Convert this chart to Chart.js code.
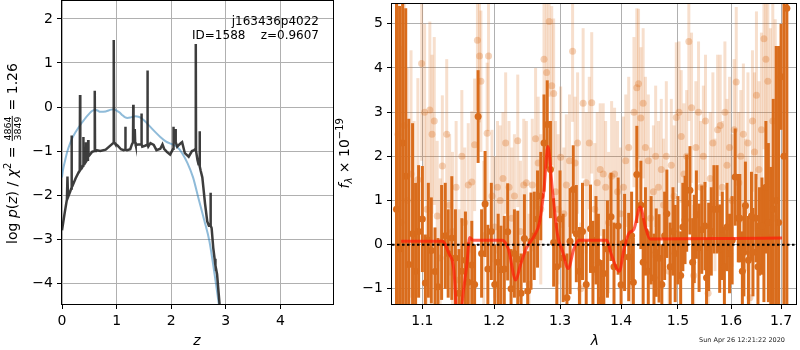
<!DOCTYPE html>
<html>
<head>
<meta charset="utf-8">
<script src="https://cdn.jsdelivr.net/npm/chart.js@4.4.0/dist/chart.umd.min.js"></script>
<style>
  html, body { margin: 0; padding: 0; background: #fff; }
  #wrap { position: relative; width: 800px; height: 350px; }
  canvas { position: absolute; top: 0; }
  #pz { left: 0; }
  #spec { left: 330px; }
</style>
</head>
<body>
<div id="wrap">
  <canvas id="pz" width="340" height="350"></canvas>
  <canvas id="spec" width="470" height="350"></canvas>
</div>
<script>
// ---- left panel: log p(z) ----
const zDark = [
  0.00, 0.05, 0.09, 0.10, 0.11, 0.15, 0.17, 0.175, 0.18, 0.19,
  0.25, 0.31, 0.325, 0.33, 0.335, 0.36, 0.385, 0.39, 0.395, 0.41,
  0.435, 0.44, 0.445, 0.46, 0.475, 0.48, 0.485, 0.50, 0.55, 0.595,
  0.60, 0.605, 0.62, 0.70, 0.80, 0.90, 0.94, 0.945, 0.95, 0.955,
  0.97, 1.02, 1.08, 1.13, 1.155, 1.16, 1.165, 1.19, 1.25, 1.28,
  1.30, 1.305, 1.31, 1.32, 1.33, 1.335, 1.34, 1.35, 1.40, 1.45,
  1.455, 1.46, 1.47, 1.52, 1.56, 1.565, 1.57, 1.58, 1.62, 1.68,
  1.73, 1.80, 1.84, 1.87, 1.92, 1.98, 2.035, 2.04, 2.045, 2.06,
  2.075, 2.08, 2.085, 2.11, 2.15, 2.18, 2.20, 2.25, 2.32, 2.38,
  2.42, 2.445, 2.45, 2.455, 2.48, 2.50, 2.515, 2.52, 2.525, 2.54,
  2.57, 2.62, 2.66, 2.69, 2.715, 2.72, 2.725, 2.74, 2.77, 2.80,
  2.805, 2.81, 2.84, 2.88, 2.92
];
const logpDark = [
  -2.8, -2.4, -2.1, -1.58, -2.05, -1.92, -1.85, -0.65, -1.82, -1.8,
  -1.62, -1.47, -1.45, 0.27, -1.43, -1.38, -1.33, -0.68, -1.32, -1.28,
  -1.25, -0.8, -1.23, -1.2, -1.15, -0.75, -1.12, -1.1, -1.02, -1.0,
  0.37, -1.0, -0.98, -1.0, -0.97, -0.86, -0.82, -0.8, 1.52, -0.8,
  -0.83, -0.88, -0.96, -0.98, -0.97, -0.45, -0.97, -0.98, -0.96, -0.85,
  -0.8, 0.05, -0.7, -0.8, -0.75, -0.5, -0.8, -0.86, -0.85, -0.85,
  -0.15, -0.85, -0.9, -0.88, -0.86, 0.83, -0.85, -0.9, -0.82, -0.86,
  -0.98, -0.95, -0.85, -0.95, -1.02, -1.08, -0.95, -0.45, -0.8, -0.75,
  -0.72, -0.5, -0.8, -0.9, -0.85, -0.82, -0.8, -1.05, -1.13, -1.0,
  -0.98, -0.95, 1.43, -1.0, -1.2, -1.3, -1.3, -0.55, -1.35, -1.45,
  -1.6, -2.2, -2.6, -2.7, -2.7, -1.95, -2.7, -2.75, -3.2, -3.5,
  -3.45, -3.6, -3.8, -4.4, -5.0
];
const zBlue = [
  0, 0.02, 0.05, 0.1, 0.15, 0.2, 0.25, 0.3, 0.35, 0.4,
  0.45, 0.5, 0.55, 0.6, 0.65, 0.7, 0.8, 0.9, 0.95, 1.0,
  1.05, 1.1, 1.15, 1.2, 1.25, 1.3, 1.35, 1.4, 1.45, 1.5,
  1.55, 1.6, 1.7, 1.8, 1.9, 2.0, 2.1, 2.2, 2.3, 2.4,
  2.5, 2.6, 2.7, 2.8, 2.87, 2.92
];
const logpBlue = [
  -1.6, -1.42, -1.25, -1.0, -0.82, -0.68, -0.57, -0.47, -0.38, -0.30,
  -0.22, -0.15, -0.09, -0.06, -0.08, -0.11, -0.10, -0.06, -0.05, -0.08,
  -0.12, -0.18, -0.23, -0.25, -0.24, -0.22, -0.21, -0.22, -0.25, -0.30,
  -0.36, -0.43, -0.56, -0.68, -0.78, -0.84, -0.90, -1.05, -1.28, -1.6,
  -2.08, -2.55, -3.05, -3.85, -4.46, -4.9
];
const zTicks = [0, 1, 2, 3, 4];
const pzTicks = [-4, -3, -2, -1, 0, 1, 2];

// ---- right panel: spectrum ----
const darkLam = [
  1.066, 1.070, 1.074, 1.078, 1.082, 1.087, 1.091, 1.095, 1.100, 1.104,
  1.108, 1.112, 1.117, 1.121, 1.126, 1.131, 1.135, 1.140, 1.145, 1.150,
  1.154, 1.159, 1.163, 1.168, 1.172, 1.177, 1.182, 1.187, 1.191, 1.196,
  1.201, 1.206, 1.210, 1.215, 1.220, 1.225, 1.230, 1.235, 1.240, 1.245,
  1.250, 1.255, 1.260, 1.265, 1.270, 1.275, 1.280, 1.285, 1.290, 1.295,
  1.300, 1.305, 1.311, 1.316, 1.321, 1.326, 1.331, 1.336, 1.342, 1.349,
  1.353, 1.358, 1.362, 1.367, 1.371, 1.377, 1.383, 1.388, 1.395, 1.400,
  1.406, 1.413, 1.418, 1.421, 1.427, 1.434, 1.438, 1.442, 1.447, 1.452,
  1.457, 1.461, 1.466, 1.471, 1.476, 1.480, 1.486, 1.491, 1.495, 1.500,
  1.505, 1.509, 1.513, 1.516, 1.522, 1.527, 1.530, 1.534, 1.539, 1.544,
  1.550, 1.553, 1.557, 1.562, 1.567, 1.573, 1.578, 1.583, 1.587, 1.592,
  1.597, 1.602, 1.608, 1.614, 1.617, 1.622, 1.625, 1.628, 1.634, 1.640,
  1.643, 1.649, 1.653, 1.656, 1.661, 1.665, 1.669, 1.674, 1.679, 1.684,
  1.690, 1.695, 1.700, 1.706, 1.712
];
const darkFlux = [
  0.8, -0.1, 2.3, 1.55, -0.45, 0.25, -0.6, 0.3, 0.58, -0.87,
  0.1, -0.13, -0.61, -0.95, 0.05, 0.2, -0.2, 0.15, -0.3, -1.1,
  -0.6, -0.35, -0.85, -0.46, -0.9, 2.9, -0.2, 0.92, -0.55, 0.3,
  -0.9, -0.4, -0.57, -0.55, 0.29, -1.0, -0.2, -0.33, -1.1, 0.14,
  -1.05, 0.08, 0.2, 0.58, 1.1, 2.3, 2.72, 1.7, 0.05, -0.5,
  0.58, -0.3, -1.2, 0.08, 1.25, 0.25, -0.6, 0.3, -0.9, 0.36,
  -0.56, 0.1, -0.4, -1.25, -0.65, -0.1, 0.63, -0.5, 0.42, -0.91,
  0.05, -0.28, 0.2, -0.85, 1.59, 0.9, -0.4, 0.3, -0.6, 0.1,
  -0.75, -0.18, -0.31, -0.9, 0.2, 0.7, -0.5, 0.3, -0.2, 0.1,
  -0.7, 0.4, 0.56, 0.94, 1.23, -0.4, 0.13, 0.68, -0.07, 0.34,
  0.42, -0.75, -0.05, 0.3, 0.8, 0.8, -0.09, 0.2, -0.5, 0.4,
  -0.2, 0.1, 1.53, 0.6, 0.6, -0.6, -0.17, 0.88, -0.35, 0.65,
  -0.17, 0.6, -0.5, 0.3, 0.42, 0.0, 1.3, 0.5, 0.16, 0.8,
  1.0, 0.5, 3.8, 2.0, 5.35
];
const darkErr = [
  6.0, 5.5, 4.5, 3.8, 3.3, 2.5, 2.0, 1.5, 1.2, 1.1,
  1.3, 1.2, 1.0, 1.1, 1.3, 1.2, 1.0, 1.4, 1.1, 1.0,
  1.2, 1.1, 0.9, 1.0, 0.9, 1.05, 1.0, 1.2, 1.0, 1.1,
  0.9, 1.1, 1.0, 1.2, 1.1, 0.9, 1.0, 1.1, 0.9, 1.0,
  0.9, 1.1, 1.0, 1.1, 1.0, 1.1, 1.0, 1.1, 1.0, 1.0,
  1.1, 1.0, 1.0, 1.2, 1.0, 1.1, 1.0, 1.1, 1.0, 1.0,
  1.1, 1.0, 1.1, 0.9, 1.0, 1.1, 1.0, 1.0, 1.1, 1.0,
  1.1, 1.0, 1.0, 1.0, 1.1, 1.0, 1.0, 1.0, 0.9, 1.0,
  1.0, 1.0, 1.0, 0.9, 1.0, 1.0, 1.0, 1.0, 1.1, 1.0,
  1.0, 1.0, 1.0, 1.1, 1.0, 1.0, 1.0, 1.0, 1.0, 1.0,
  1.0, 0.9, 1.0, 1.0, 1.0, 1.0, 1.0, 1.0, 0.9, 1.0,
  0.9, 1.0, 1.1, 1.0, 1.0, 0.9, 1.0, 1.0, 1.0, 1.0,
  1.0, 1.0, 1.0, 1.0, 1.1, 1.3, 1.5, 1.8, 1.6, 2.5,
  3.5, 4.0, 1.2, 6.0, 7.0
];
const lightLam = [
  1.068, 1.072, 1.076, 1.080, 1.085, 1.089, 1.094, 1.099, 1.103, 1.106,
  1.110, 1.113, 1.116, 1.120, 1.124, 1.127, 1.133, 1.137, 1.141, 1.146,
  1.150, 1.154, 1.158, 1.163, 1.168, 1.172, 1.176, 1.179, 1.181, 1.185,
  1.190, 1.192, 1.197, 1.201, 1.205, 1.209, 1.213, 1.217, 1.222, 1.226,
  1.230, 1.235, 1.239, 1.244, 1.248, 1.252, 1.257, 1.262, 1.266, 1.270,
  1.275, 1.279, 1.283, 1.287, 1.290, 1.293, 1.297, 1.301, 1.306, 1.310,
  1.315, 1.320, 1.324, 1.328, 1.333, 1.337, 1.342, 1.347, 1.351, 1.356,
  1.360, 1.365, 1.370, 1.374, 1.379, 1.384, 1.389, 1.394, 1.399, 1.404,
  1.408, 1.413, 1.418, 1.422, 1.427, 1.430, 1.434, 1.438, 1.442, 1.447,
  1.451, 1.456, 1.460, 1.465, 1.470, 1.474, 1.479, 1.484, 1.488, 1.493,
  1.497, 1.502, 1.506, 1.511, 1.516, 1.520, 1.525, 1.529, 1.533, 1.538,
  1.542, 1.547, 1.551, 1.556, 1.560, 1.565, 1.569, 1.574, 1.579, 1.583,
  1.588, 1.592, 1.597, 1.602, 1.606, 1.610, 1.615, 1.619, 1.624, 1.628,
  1.633, 1.637, 1.642, 1.646, 1.650, 1.655, 1.660, 1.665, 1.669, 1.673,
  1.678, 1.683, 1.688
];
const lightFlux = [
  2.5, 0.5, 2.7, 1.0, 1.6, 0.2, 1.47, 4.1, 3.0, 0.8,
  3.05, 2.5, 2.8, 0.65, -0.3, 1.78, 2.5, 0.9, 0.3, 1.3,
  -0.8, 2.0, 0.5, 1.35, 1.42, 2.26, 4.63, 4.27, 3.7, 0.2,
  2.52, 4.27, 1.1, 0.4, 1.3, 1.0, 1.5, 2.3, 1.3, 0.6,
  1.1, 2.35, 0.3, 1.35, 1.4, -0.9, 1.35, 2.4, 1.85, 0.8,
  4.2, 3.9, 5.05, 3.6, 3.42, 1.2, 0.8, 1.98, 0.7, 1.35,
  1.9, 4.38, 1.85, 2.3, -1.0, 3.2, 1.4, 2.3, 3.21, 0.8,
  1.4, 1.7, 1.6, 1.3, 0.5, 1.55, 1.6, 1.2, 0.7, 1.3,
  1.9, 2.2, -0.9, 3.0, 3.55, 3.64, 2.87, 3.2, 2.2, 1.9,
  0.6, 1.2, 2.0, 1.3, 1.7, 0.9, 2.0, -0.6, 1.8, 1.1,
  2.88, 3.0, 2.45, 1.6, 2.0, 4.6, 3.1, -0.7, 2.2, 3.0,
  1.3, 2.0, 2.8, -1.1, 1.5, 2.3, 0.9, 2.6, 2.7, 1.3,
  3.0, 1.8, 2.2, 1.0, 2.6, 3.68, 1.4, 2.0, 2.5, 0.9,
  2.3, -1.2, 2.8, 2.1, 3.38, 1.7, 2.6, 4.66, 4.2, 3.7,
  1.4, 2.8, 0.6
];
const lightErr = [
  4.0, 4.0, 3.5, 3.0, 2.8, 2.6, 2.3, 2.2, 2.0, 2.2,
  2.0, 1.8, 1.9, 1.7, 1.8, 1.6, 1.7, 1.6, 1.8, 1.5,
  1.6, 1.5, 1.7, 1.4, 1.6, 1.5, 1.6, 1.5, 1.6, 1.7,
  1.6, 1.7, 1.5, 1.6, 1.5, 1.7, 1.5, 1.6, 1.5, 1.6,
  1.4, 1.5, 1.6, 1.5, 1.4, 1.6, 1.5, 1.6, 1.5, 1.7,
  1.6, 1.8, 1.7, 1.8, 1.7, 1.6, 1.7, 1.6, 1.5, 1.6,
  1.5, 1.6, 1.5, 1.6, 1.5, 1.7, 1.6, 1.5, 1.6, 1.5,
  1.6, 1.5, 1.6, 1.5, 1.6, 1.7, 1.5, 1.6, 1.5, 1.6,
  1.5, 1.6, 1.5, 1.7, 1.8, 1.7, 1.6, 1.7, 1.6, 1.5,
  1.6, 1.5, 1.6, 1.5, 1.6, 1.5, 1.7, 1.6, 1.5, 1.6,
  1.7, 1.6, 1.5, 1.6, 1.5, 1.8, 1.7, 1.6, 1.5, 1.6,
  1.5, 1.6, 1.5, 1.6, 1.5, 1.6, 1.5, 1.7, 1.6, 1.5,
  1.6, 1.5, 1.6, 1.5, 1.6, 1.7, 1.6, 1.5, 1.6, 1.5,
  1.6, 1.7, 1.6, 1.8, 1.9, 2.0, 2.2, 2.5, 2.8, 3.0,
  3.5, 4.0, 4.5
];
const modelLam = [
  1.072, 1.127, 1.136, 1.143, 1.146, 1.150, 1.154, 1.161, 1.165, 1.170,
  1.212, 1.221, 1.232, 1.239, 1.248, 1.260, 1.268, 1.275, 1.281, 1.288,
  1.296, 1.304, 1.313, 1.322, 1.330, 1.376, 1.383, 1.397, 1.405, 1.413,
  1.422, 1.433, 1.442, 1.450, 1.600, 1.702
];
const modelFlux = [
  0.08, 0.08, -0.2, -0.6, -1.4, -2.5, -1.4, -0.45, 0.16, 0.10,
  0.10, -0.1, -0.8, -0.46, -0.08, 0.20, 0.5, 1.25, 2.22, 1.25,
  0.23, -0.15, -0.54, -0.1, 0.10, 0.10, -0.2, -0.6, -0.1, 0.25,
  0.35, 0.85, 0.4, 0.13, 0.14, 0.15
];
const lamTicks = [1.1, 1.2, 1.3, 1.4, 1.5, 1.6, 1.7];
const fluxTicks = [-1, 0, 1, 2, 3, 4, 5];

const DARK = 'rgb(217,108,28)';
const LIGHT_BAR = 'rgba(217,108,28,0.22)';
const LIGHT_PT = 'rgba(217,108,28,0.3)';

Chart.defaults.font.family = 'DejaVu Sans';
Chart.defaults.font.size = 14;
Chart.defaults.color = '#000';

const pts = (xs, ys) => xs.map((x, i) => ({ x, y: ys[i] }));
const minus = (s) => String(s).replace('-', '\u2212');

function fixedTicks(values) {
  return (scale) => { scale.ticks = values.map((v) => ({ value: v })); };
}

function axis(extra) {
  return Object.assign({
    grid: { color: '#b0b0b0', lineWidth: 1, tickColor: '#000', tickLength: 5 },
    border: { display: false },
    ticks: { padding: 4, autoSkip: false, maxRotation: 0, color: '#000' },
  }, extra);
}

// black box round the plot area
const frame = {
  id: 'frame',
  afterDraw(chart) {
    const { ctx, chartArea: a } = chart;
    ctx.save();
    ctx.strokeStyle = '#000';
    ctx.lineWidth = 1;
    ctx.strokeRect(a.left - 0.5, a.top - 0.5, a.right - a.left + 1, a.bottom - a.top + 1);
    ctx.restore();
  },
};

// vertical error bars, drawn just before each dataset's points
const errorBars = {
  id: 'errorBars',
  beforeDatasetDraw(chart, args) {
    const ds = chart.data.datasets[args.index];
    if (!ds.errors) return;
    const { ctx, chartArea: a, scales: { x, y } } = chart;
    ctx.save();
    ctx.beginPath();
    ctx.rect(a.left, a.top, a.right - a.left, a.bottom - a.top);
    ctx.clip();
    ctx.strokeStyle = ds.barColor;
    ctx.lineWidth = 3;
    ds.data.forEach((p, i) => {
      const px = x.getPixelForValue(p.x);
      ctx.beginPath();
      ctx.moveTo(px, y.getPixelForValue(p.y - ds.errors[i]));
      ctx.lineTo(px, y.getPixelForValue(p.y + ds.errors[i]));
      ctx.stroke();
    });
    ctx.restore();
  },
};

// rotated label made of runs (sub/superscripts, a small fraction)
function drawRuns(ctx, x, y, runs) {
  let total = 0;
  runs.forEach((r) => {
    ctx.font = r.font;
    r.w = r.frac
      ? Math.max(ctx.measureText(r.frac[0]).width, ctx.measureText(r.frac[1]).width) + 3
      : ctx.measureText(r.text).width;
    total += r.w;
  });
  ctx.save();
  ctx.translate(x, y);
  ctx.rotate(-Math.PI / 2);
  ctx.fillStyle = '#000';
  ctx.textBaseline = 'alphabetic';
  let cx = -total / 2;
  runs.forEach((r) => {
    ctx.font = r.font;
    if (r.frac) {
      ctx.textAlign = 'center';
      ctx.fillText(r.frac[0], cx + r.w / 2, -6.5);
      ctx.fillText(r.frac[1], cx + r.w / 2, 3.5);
      ctx.fillRect(cx + 1, -5.2, r.w - 2, 0.9);
    } else {
      ctx.textAlign = 'left';
      ctx.fillText(r.text, cx, r.dy || 0);
    }
    cx += r.w;
  });
  ctx.restore();
}

const N = '14px DejaVu Sans';
const I = 'italic 14px DejaVu Sans';
const S = '10px DejaVu Sans';

const pzText = {
  id: 'pzText',
  afterDraw(chart) {
    const { ctx } = chart;
    ctx.save();
    ctx.fillStyle = '#000';
    ctx.font = '12px DejaVu Sans';
    ctx.textAlign = 'right';
    ctx.fillText('j163436p4022', 319, 24.5);
    ctx.fillText('ID=1588    z=0.9607', 319, 39);
    ctx.font = I;
    ctx.textAlign = 'center';
    ctx.fillText('z', 197, 345);
    ctx.restore();
    drawRuns(ctx, 17, 153.5, [
      { text: 'log ', font: N }, { text: 'p', font: I }, { text: '(', font: N },
      { text: 'z', font: I }, { text: ') / ', font: N }, { text: '\u03c7', font: I },
      { text: '2', font: S, dy: -6 }, { text: ' = ', font: N },
      { frac: ['4864', '3849'], font: '9.5px DejaVu Sans' }, { text: ' = 1.26', font: N },
    ]);
  },
};

const specText = {
  id: 'specText',
  afterDraw(chart) {
    const { ctx } = chart;
    ctx.save();
    ctx.fillStyle = '#000';
    ctx.font = I;
    ctx.textAlign = 'center';
    ctx.fillText('\u03bb', 265, 345);
    ctx.font = '6.5px DejaVu Sans';
    ctx.fillStyle = '#222';
    ctx.fillText('Sun Apr 26 12:21:22 2020', 412, 342);
    ctx.restore();
    drawRuns(ctx, 19, 153.3, [
      { text: 'f', font: I }, { text: '\u03bb', font: 'italic 10px DejaVu Sans', dy: 3 },
      { text: ' \u00d7 10', font: N }, { text: '\u221219', font: S, dy: -6 },
    ]);
  },
};

function fitBox(w, h) {
  return (scale) => {
    if (w) scale.width = w;
    if (h) scale.height = h;
    scale.paddingLeft = 0; scale.paddingRight = 0;
    scale.paddingTop = 0; scale.paddingBottom = 0;
  };
}

new Chart(document.getElementById('pz'), {
  type: 'scatter',
  data: {
    datasets: [
      {
        data: pts(zDark, logpDark), showLine: true, pointRadius: 0,
        borderColor: 'rgba(40,40,40,0.9)', borderWidth: 2.5, order: 0,
      },
      {
        data: pts(zBlue, logpBlue), showLine: true, pointRadius: 0,
        borderColor: 'rgba(31,119,180,0.5)', borderWidth: 2,
        cubicInterpolationMode: 'monotone', order: 1,
      },
    ],
  },
  options: {
    responsive: false, animation: false, events: [], devicePixelRatio: 1,
    layout: { padding: { left: 0, right: 7, top: 1, bottom: 0 } },
    plugins: { legend: { display: false }, tooltip: { enabled: false } },
    scales: {
      x: axis({ type: 'linear', min: 0, max: 4.963, afterBuildTicks: fixedTicks(zTicks),
        afterFit: fitBox(0, 46), ticks: { padding: 4, autoSkip: false, maxRotation: 0, callback: (v) => minus(v) } }),
      y: axis({ type: 'linear', min: -4.477, max: 2.409, afterBuildTicks: fixedTicks(pzTicks),
        afterFit: fitBox(62, 0), ticks: { padding: 4, autoSkip: false, callback: (v) => minus(v) } }),
    },
  },
  plugins: [frame, pzText],
});

new Chart(document.getElementById('spec'), {
  type: 'scatter',
  data: {
    datasets: [
      {
        data: pts(lightLam, lightFlux), errors: lightErr, barColor: LIGHT_BAR,
        pointRadius: 3.5, pointBorderWidth: 0, pointBackgroundColor: LIGHT_PT, order: 3,
      },
      {
        data: pts(darkLam, darkFlux), errors: darkErr, barColor: DARK,
        pointRadius: 3.5, pointBorderWidth: 0, pointBackgroundColor: DARK, order: 2,
      },
      {
        data: pts(modelLam, modelFlux), showLine: true, pointRadius: 0,
        borderColor: 'rgba(255,25,5,0.7)', borderWidth: 3,
        cubicInterpolationMode: 'monotone', order: 1,
      },
      {
        data: pts([1.0602, 1.7311], [0, 0]), showLine: true, pointRadius: 0,
        borderColor: '#000', borderWidth: 2, borderDash: [2.5, 2.5], order: 0,
      },
    ],
  },
  options: {
    responsive: false, animation: false, events: [], devicePixelRatio: 1,
    layout: { padding: { left: 0, right: 1, top: 1, bottom: 0 } },
    plugins: { legend: { display: false }, tooltip: { enabled: false } },
    scales: {
      x: axis({ type: 'logarithmic', min: 1.0602, max: 1.7311, afterBuildTicks: fixedTicks(lamTicks),
        afterFit: fitBox(0, 46), ticks: { padding: 4, autoSkip: false, maxRotation: 0, callback: (v) => Number(v).toFixed(1) } }),
      y: axis({ type: 'linear', min: -1.343, max: 5.448, afterBuildTicks: fixedTicks(fluxTicks),
        afterFit: fitBox(62, 0), ticks: { padding: 4, autoSkip: false, callback: (v) => minus(v) } }),
    },
  },
  plugins: [frame, errorBars, specText],
});
</script>
</body>
</html>
